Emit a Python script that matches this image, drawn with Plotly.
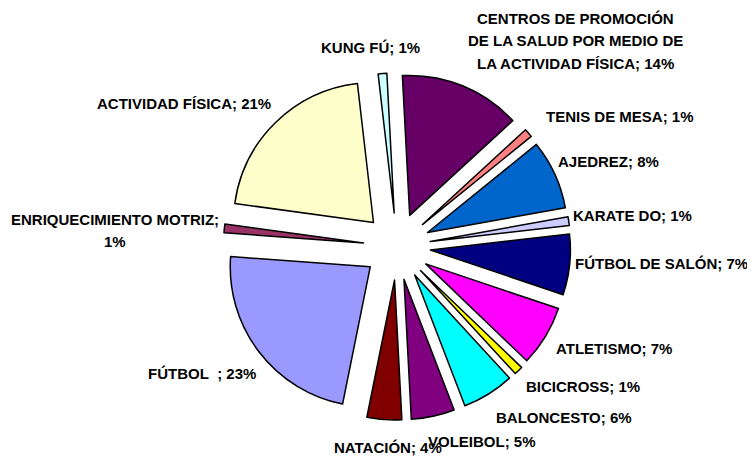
import plotly.graph_objects as go

# ---- data ----
categories = [
    "CENTROS DE PROMOCIÓN DE LA SALUD POR MEDIO DE LA ACTIVIDAD FÍSICA",
    "TENIS DE MESA",
    "AJEDREZ",
    "KARATE DO",
    "FÚTBOL DE SALÓN",
    "ATLETISMO",
    "BICICROSS",
    "BALONCESTO",
    "VOLEIBOL",
    "NATACIÓN",
    "FÚTBOL\u00a0\u00a0",
    "ENRIQUECIMIENTO MOTRIZ",
    "ACTIVIDAD FÍSICA",
    "KUNG FÚ",
]
values = [14, 1, 8, 1, 7, 7, 1, 6, 5, 4, 23, 1, 21, 1]

colors = [
    "#660066", "#FF8080", "#0066CC", "#CCCCFF", "#000080", "#FF00FF", "#FFFF00",
    "#00FFFF", "#800080", "#800000", "#9999FF", "#993366", "#FFFFCC", "#CCFFFF",
]

# manual line wrapping of long labels
wraps = {
    0: ["CENTROS DE PROMOCIÓN", "DE LA SALUD POR MEDIO DE", "LA ACTIVIDAD FÍSICA"],
}

# label centre positions in pixels (x, y of first line)
label_pos = [
    (575, 18.5), (620, 116.5), (608, 161), (632, 215), (661, 263),
    (614, 348), (583, 386), (564, 417), (482, 441), (388, 447),
    (202, 373), (115, 219), (184, 103), (370, 47),
]

W, H = 747, 457
LINE = 22.5
PULL = 0.24
R = 140
CX, CY = 397, 246.5
half = R * (1 + PULL)

fig = go.Figure()
fig.add_trace(go.Pie(
    labels=categories,
    values=values,
    sort=False,
    direction="clockwise",
    rotation=-3,
    pull=[PULL] * len(values),
    marker=dict(colors=colors, line=dict(color="black", width=1.5)),
    textinfo="none",
    hoverinfo="label+percent",
    domain=dict(x=[(CX - half - 20) / W, (CX + half + 20) / W],
                y=[1 - (CY + half) / H, 1 - (CY - half) / H]),
))

annotations = []
for i, (cat, v) in enumerate(zip(categories, values)):
    if i in wraps:
        lines = list(wraps[i])
        lines[-1] = lines[-1] + f"; {v}%"
    elif i == 11:
        lines = [f"{cat};", f"{v}%"]
    else:
        lines = [f"{cat}; {v}%"]
    px, py = label_pos[i]
    for k, ln in enumerate(lines):
        annotations.append(dict(
            x=px / W, y=1 - (py + k * LINE) / H, xref="paper", yref="paper",
            text="<b>" + ln + "</b>", showarrow=False, xanchor="center", yanchor="middle",
            font=dict(family="Liberation Sans, Arial, sans-serif", size=15, color="black"),
        ))

fig.update_layout(
    width=W, height=H,
    margin=dict(l=0, r=0, t=0, b=0),
    paper_bgcolor="white", plot_bgcolor="white",
    showlegend=False,
    annotations=annotations,
)

fig.write_html("out.html", config={"displayModeBar": False},
               post_script="document.body.style.margin='0';")
